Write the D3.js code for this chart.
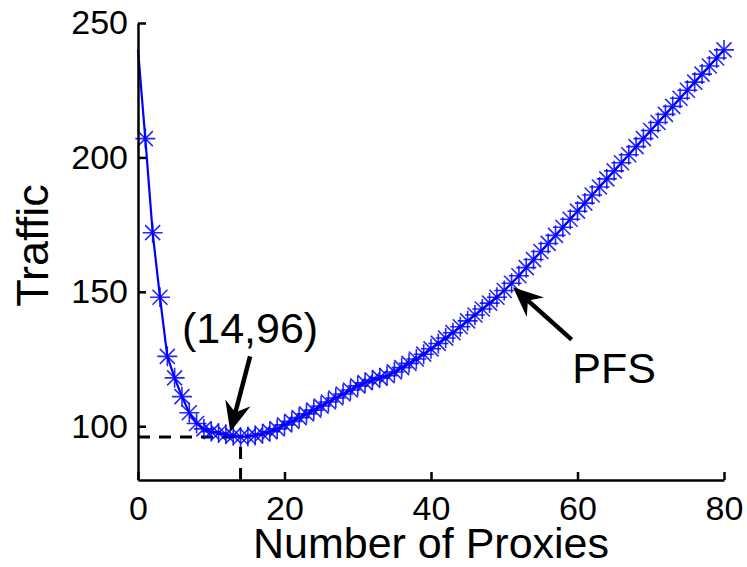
<!DOCTYPE html>
<html lang="en">
<head>
    <meta charset="UTF-8">
    <title>Traffic vs number of proxies</title>
    <style>
        body {
            margin: 0;
            background-color: #fff;
        }

        svg text {
            font-family: "Liberation Sans", Arial, Helvetica, sans-serif;
            fill: #000;
        }

        .axis path,
        .axis line {
            stroke: #000;
            stroke-width: 2.5;
        }
    </style>
</head>
<body>
    <svg id="chart" width="747" height="567"></svg>

    <script src="https://cdnjs.cloudflare.com/ajax/libs/d3/7.8.5/d3.min.js"></script>
    <script>
        // number of proxies (x) and resulting traffic (y)
        const proxies = [
            0, 1, 2, 3, 4, 5, 6, 7, 8, 9,
            10, 11, 12, 13, 14, 15, 16, 17, 18, 19,
            20, 21, 22, 23, 24, 25, 26, 27, 28, 29,
            30, 31, 32, 33, 34, 35, 36, 37, 38, 39,
            40, 41, 42, 43, 44, 45, 46, 47, 48, 49,
            50, 51, 52, 53, 54, 55, 56, 57, 58, 59,
            60, 61, 62, 63, 64, 65, 66, 67, 68, 69,
            70, 71, 72, 73, 74, 75, 76, 77, 78, 79,
            80
        ];
        const traffic = [
            240, 207, 172, 148, 126, 118, 111, 105, 101, 99,
            98, 97.5, 97, 96.5, 96, 96.2, 96.6, 97.2, 98, 99,
            100.5, 101.8, 103.2, 104.6, 106, 107.5, 109, 110.5, 112, 113.5,
            115, 116.2, 117.2, 118, 118.8, 120.2, 121.8, 123.4, 125, 126.8,
            128.8, 130.8, 132.8, 134.8, 137, 139.2, 141.4, 143.6, 145.8, 148,
            150.5, 153.2, 156, 159, 162, 165, 168, 171, 174, 177,
            180, 183, 186, 189, 192, 195, 198, 201, 204, 207,
            210, 213, 216, 219, 222, 225, 228, 231, 234, 237,
            240
        ];

        const xTicks = [0, 20, 40, 60, 80];
        const yTicks = [100, 150, 200, 250];

        // the marked optimum and the two callouts, in data units
        const optimum = { x: 14, y: 96 };
        const callouts = [
            { label: '(14,96)', tail: [15.3, 126], tip: [12.6, 97.9], text: [6.0, 131] },
            { label: 'PFS', tail: [59.2, 132.2], tip: [51.2, 151.7], text: [59.3, 116.2] }
        ];

        const svg = d3.select('#chart');

        const x = d3.scaleLinear()
            .domain([0, 80])
            .range([138, 724]);

        const y = d3.scaleLinear()
            .domain([80, 250])
            .range([480, 23]);

        // dashed guide lines to the optimum
        const guides = svg.append('g')
            .attr('stroke', '#000')
            .attr('stroke-width', 3)
            .attr('stroke-dasharray', '12,9')
            .attr('fill', 'none');
        guides.append('line')
            .attr('x1', x(0)).attr('y1', y(optimum.y))
            .attr('x2', x(optimum.x)).attr('y2', y(optimum.y));
        guides.append('line')
            .attr('x1', x(optimum.x)).attr('y1', y(80))
            .attr('x2', x(optimum.x)).attr('y2', y(optimum.y));

        const points = proxies.map((p, i) => ({ x: p, y: traffic[i] }));

        const line = d3.line()
            .x(d => x(d.x))
            .y(d => y(d.y));

        svg.append('path')
            .datum(points)
            .attr('d', line)
            .attr('fill', 'none')
            .attr('stroke', '#0000ff')
            .attr('stroke-width', 2.2);

        // asterisk markers (the first point sits on the axis and shows none)
        const r = 10, rd = 7.5;
        const asterisk = `M${-r},0L${r},0M0,${-r}L0,${r}M${-rd},${-rd}L${rd},${rd}M${-rd},${rd}L${rd},${-rd}`;
        svg.append('g')
            .selectAll('path')
            .data(points.filter(d => d.x > 0))
            .join('path')
            .attr('transform', d => `translate(${x(d.x)},${y(d.y)})`)
            .attr('d', asterisk)
            .attr('fill', 'none')
            .attr('stroke', '#0000ff')
            .attr('stroke-opacity', 0.85)
            .attr('stroke-width', 1.6);

        // axes with inward ticks
        svg.append('g')
            .attr('class', 'axis')
            .attr('transform', `translate(0,${y(80)})`)
            .call(d3.axisBottom(x)
                .tickValues(xTicks)
                .tickSizeInner(-8)
                .tickSizeOuter(0)
                .tickPadding(16));

        svg.append('g')
            .attr('class', 'axis')
            .attr('transform', `translate(${x(0)},0)`)
            .call(d3.axisLeft(y)
                .tickValues(yTicks)
                .tickSizeInner(-8)
                .tickSizeOuter(0)
                .tickPadding(10));

        svg.selectAll('.axis text')
            .style('font-size', '34px')
            .style('font-family', '"Liberation Sans", Arial, sans-serif');

        svg.append('text')
            .attr('x', (x(0) + x(80)) / 2)
            .attr('y', 558)
            .attr('text-anchor', 'middle')
            .style('font-size', '43px')
            .text('Number of Proxies');

        svg.append('text')
            .attr('transform', `translate(48,${(y(80) + y(250)) / 2 - 6}) rotate(-90)`)
            .attr('text-anchor', 'middle')
            .style('font-size', '45px')
            .text('Traffic');

        // callout arrows with swept-back heads
        function arrowHead (tail, tip) {
            const dx = tip[0] - tail[0], dy = tip[1] - tail[1];
            const len = Math.hypot(dx, dy);
            const ux = dx / len, uy = dy / len;
            const nx = -uy, ny = ux;
            const hl = 30, hw = 13, notch = 20;
            const back = [tip[0] - ux * hl, tip[1] - uy * hl];
            const mid = [tip[0] - ux * notch, tip[1] - uy * notch];
            return `M${tip[0]},${tip[1]}` +
                `L${back[0] + nx * hw},${back[1] + ny * hw}` +
                `L${mid[0]},${mid[1]}` +
                `L${back[0] - nx * hw},${back[1] - ny * hw}Z`;
        }

        const notes = svg.append('g');
        callouts.forEach(c => {
            const tail = [x(c.tail[0]), y(c.tail[1])];
            const tip = [x(c.tip[0]), y(c.tip[1])];
            const dx = tip[0] - tail[0], dy = tip[1] - tail[1];
            const len = Math.hypot(dx, dy);
            notes.append('line')
                .attr('x1', tail[0]).attr('y1', tail[1])
                .attr('x2', tip[0] - dx / len * 20).attr('y2', tip[1] - dy / len * 20)
                .attr('stroke', '#000')
                .attr('stroke-width', 4.5);
            notes.append('path')
                .attr('d', arrowHead(tail, tip))
                .attr('fill', '#000');
            notes.append('text')
                .attr('x', x(c.text[0]))
                .attr('y', y(c.text[1]))
                .style('font-size', '43px')
                .text(c.label);
        });
    </script>
</body>
</html>
